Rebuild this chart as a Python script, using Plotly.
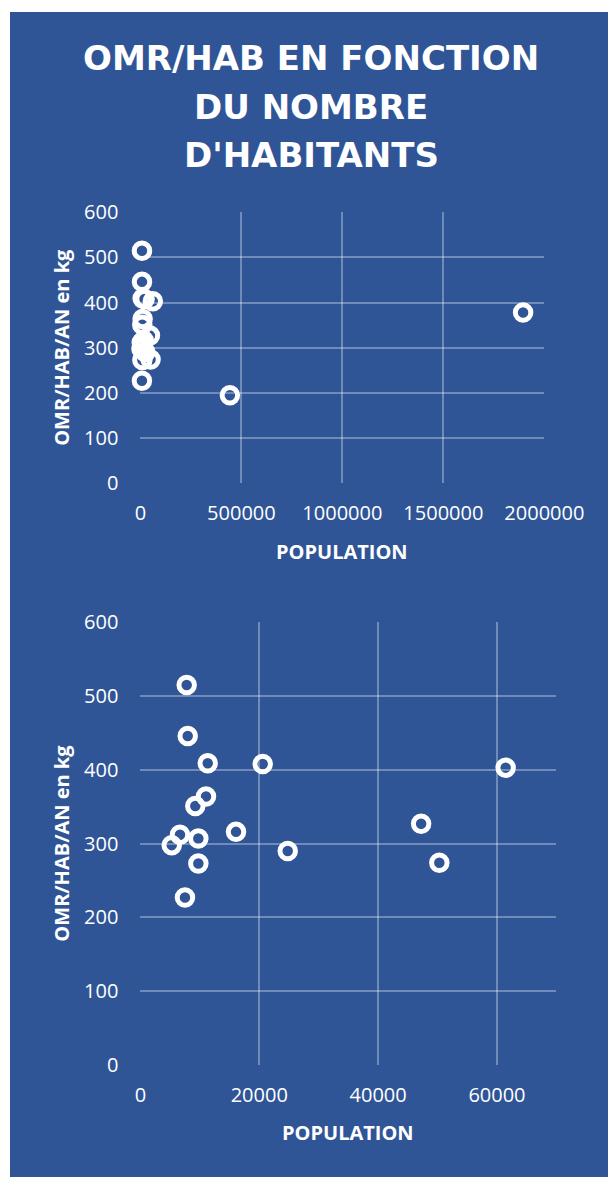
import plotly.graph_objects as go

# ---------------- data ----------------
population = [7790, 7960, 11330, 20580, 11040, 9240, 6660, 5270, 9750, 16090,
              24790, 9750, 7500, 47240, 50300, 61460, 443000, 1894500]
omr_per_hab = [515, 446, 409, 408, 364, 351, 312, 298, 307, 316,
               290, 273, 227, 327, 274, 403, 195, 378]

title_lines = ["OMR/HAB EN FONCTION", "DU NOMBRE", "D'HABITANTS"]
x_title = "POPULATION"
y_title = "OMR/HAB/AN en kg"

top_x_range = [0, 2000000]
top_x_dtick = 500000
bottom_x_range = [0, 70000]
bottom_x_dtick = 20000
y_range = [0, 600]
y_dtick = 100

# ---------------- layout helpers (pixels -> paper) ----------------
W, H = 608, 1177
def fx(p):
    return p / W
def fy(p):
    return 1 - p / H

BLUE = "#2F5597"
GRID = "rgba(255,255,255,0.32)"
WHITE = "#FFFFFF"
TICKFONT = dict(family="Open Sans", size=20, color=WHITE)
AXTFONT = dict(family="Open Sans", size=20, color=WHITE)
TITLEFONT = dict(family="DejaVu Sans", size=34, color=WHITE)

fig = go.Figure()

marker = dict(symbol="circle-open", size=15.5, color=WHITE, line=dict(width=5, color=WHITE))

fig.add_trace(go.Scatter(x=population, y=omr_per_hab, mode="markers", marker=marker,
                         xaxis="x", yaxis="y", showlegend=False, cliponaxis=False))
fig.add_trace(go.Scatter(x=population, y=omr_per_hab, mode="markers", marker=marker,
                         xaxis="x2", yaxis="y2", showlegend=False))

common_x = dict(showgrid=True, gridcolor=GRID, gridwidth=1.6, zeroline=False, showline=False,
                ticks="", tickfont=TICKFONT, tickformat="d", ticklabelstandoff=16,
                automargin=False)
common_y = dict(showgrid=True, gridcolor=GRID, gridwidth=1.6, zeroline=False, showline=False,
                ticks="", tickfont=TICKFONT, range=y_range, dtick=y_dtick,
                ticklabelstandoff=21, automargin=False)

top_x0, top_x1, top_y0, top_y1 = 140.4, 544.4, 212.3, 483.3
bot_x0, bot_x1, bot_y0, bot_y1 = 140.4, 556.4, 622.3, 1065.0

fig.update_layout(
    template="none",
    width=W, height=H,
    margin=dict(l=0, r=0, t=0, b=0, pad=0),
    paper_bgcolor="white",
    plot_bgcolor="rgba(0,0,0,0)",
    xaxis=dict(common_x, domain=[fx(top_x0), fx(top_x1)], range=top_x_range,
               dtick=top_x_dtick, anchor="y"),
    yaxis=dict(common_y, domain=[fy(top_y1), fy(top_y0)], anchor="x"),
    xaxis2=dict(common_x, domain=[fx(bot_x0), fx(bot_x1)], range=bottom_x_range,
                dtick=bottom_x_dtick, anchor="y2"),
    yaxis2=dict(common_y, domain=[fy(bot_y1), fy(bot_y0)], anchor="x2"),
    shapes=[dict(type="rect", xref="paper", yref="paper", x0=fx(10), x1=fx(608),
                 y0=fy(1177), y1=fy(12), fillcolor=BLUE, line=dict(width=0), layer="below")],
)

ann = []
for line, yc in zip(title_lines, [58, 107, 155]):
    ann.append(dict(text="<b>%s</b>" % line, x=fx(311), y=fy(yc), xref="paper", yref="paper",
                    xanchor="center", yanchor="middle", showarrow=False, font=TITLEFONT))
# axis titles
ann.append(dict(text="<b>%s</b>" % x_title, x=fx((top_x0 + top_x1) / 2), y=fy(551.7),
                xref="paper", yref="paper", xanchor="center", yanchor="middle",
                showarrow=False, font=AXTFONT))
ann.append(dict(text="<b>%s</b>" % x_title, x=fx((bot_x0 + bot_x1) / 2), y=fy(1132.7),
                xref="paper", yref="paper", xanchor="center", yanchor="middle",
                showarrow=False, font=AXTFONT))
ann.append(dict(text="<b>%s</b>" % y_title, x=fx(62), y=fy((top_y0 + top_y1) / 2),
                xref="paper", yref="paper", xanchor="center", yanchor="middle",
                textangle=-90, showarrow=False, font=AXTFONT))
ann.append(dict(text="<b>%s</b>" % y_title, x=fx(62), y=fy((bot_y0 + bot_y1) / 2),
                xref="paper", yref="paper", xanchor="center", yanchor="middle",
                textangle=-90, showarrow=False, font=AXTFONT))
fig.update_layout(annotations=ann)

fig.write_html("out.html", config={"displayModeBar": False},
               post_script="document.body.style.margin='0';")
